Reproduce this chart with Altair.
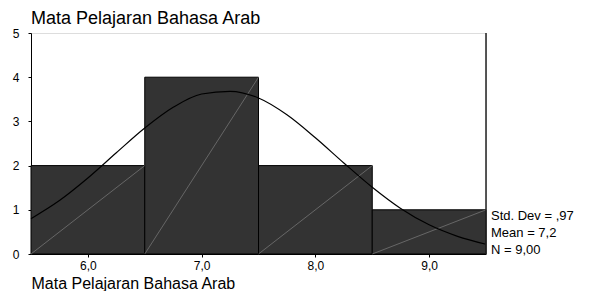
import altair as alt
import pandas as pd

# Histogram bins and frequencies
bin_start = [5.5, 6.5, 7.5, 8.5]
bin_end = [6.5, 7.5, 8.5, 9.5]
counts = [2, 4, 2, 1]

# Normal curve
curve_x = [5.5, 5.75, 6.0, 6.25, 6.5, 6.75, 7.0, 7.25, 7.5, 7.75, 8.0, 8.25, 8.5, 8.75, 9.0, 9.25, 9.5]
curve_y = [0.80, 1.21, 1.72, 2.29, 2.85, 3.32, 3.62, 3.68, 3.53, 3.15, 2.63, 2.06, 1.51, 1.03, 0.66, 0.40, 0.22]

stat_lines = ["Std. Dev = ,97", "Mean = 7,2", "N = 9,00"]
title_text = "Mata Pelajaran Bahasa Arab"
x_title = "Mata Pelajaran Bahasa Arab"

FONT = "Liberation Sans"

bars = pd.DataFrame({"start": bin_start, "end": bin_end, "count": counts, "zero": [0] * len(counts)})
curve = pd.DataFrame({"x": curve_x, "y": curve_y})

xscale = alt.Scale(domain=[5.5, 9.5], nice=False, zero=False)
yscale = alt.Scale(domain=[0, 5], nice=False)

xaxis = alt.Axis(
    values=[6, 7, 8, 9],
    labelExpr="replace(format(datum.value, '.1f'), '.', ',')",
    grid=False, domainColor="black", tickColor="black", tickSize=3,
    labelPadding=3, labelFont=FONT, labelFontSize=12, labelColor="black",
    title=x_title, titleFont=FONT, titleFontSize=16, titleFontWeight="normal",
    titleColor="black", titleAnchor="start", titleAlign="left",
    titleBaseline="alphabetic", titleX=0, titleY=34,
)
yaxis = alt.Axis(
    values=[0, 1, 2, 3, 4, 5], format="d",
    grid=False, domainColor="black", tickColor="black", tickSize=3,
    labelPadding=9, labelFont=FONT, labelFontSize=12, labelColor="black",
    title=None,
)

rect = alt.Chart(bars).mark_rect(fill="#333333", stroke="black", strokeWidth=1).encode(
    x=alt.X("start:Q", scale=xscale, axis=xaxis),
    x2="end:Q",
    y=alt.Y("zero:Q", scale=yscale, axis=yaxis),
    y2="count:Q",
)

diag = alt.Chart(bars).mark_rule(color="#8a8a8a", strokeWidth=0.6).encode(
    x="start:Q", x2="end:Q", y="zero:Q", y2="count:Q",
)

line = alt.Chart(curve).mark_line(color="black", strokeWidth=1.2, interpolate="monotone").encode(
    x="x:Q", y="y:Q",
)

right_edge = alt.Chart(pd.DataFrame({"x": [9.5], "y0": [0], "y1": [5]})).mark_rule(
    color="#222222", strokeWidth=1.5
).encode(x="x:Q", y="y0:Q", y2="y1:Q")

stats = alt.Chart(pd.DataFrame({"t": ["\n".join(stat_lines)]})).mark_text(
    align="left", baseline="middle", lineBreak="\n", lineHeight=17,
    font=FONT, fontSize=13, color="black",
).encode(x=alt.value(460), y=alt.value(183), text="t:N")

chart = alt.layer(rect, diag, line, right_edge, stats).properties(
    width=455, height=221,
    padding={"left": 23, "top": 25, "right": 101, "bottom": 37},
    autosize=alt.AutoSizeParams(type="none"),
    title=alt.TitleParams(
        text=title_text, anchor="start", font=FONT, fontSize=18,
        fontWeight="normal", color="black", offset=0, dy=1, frame="group",
    ),
).configure_view(stroke="#808080", strokeWidth=1).configure(background="white")

chart.save("out.html", embed_options={"renderer": "svg", "actions": False})
